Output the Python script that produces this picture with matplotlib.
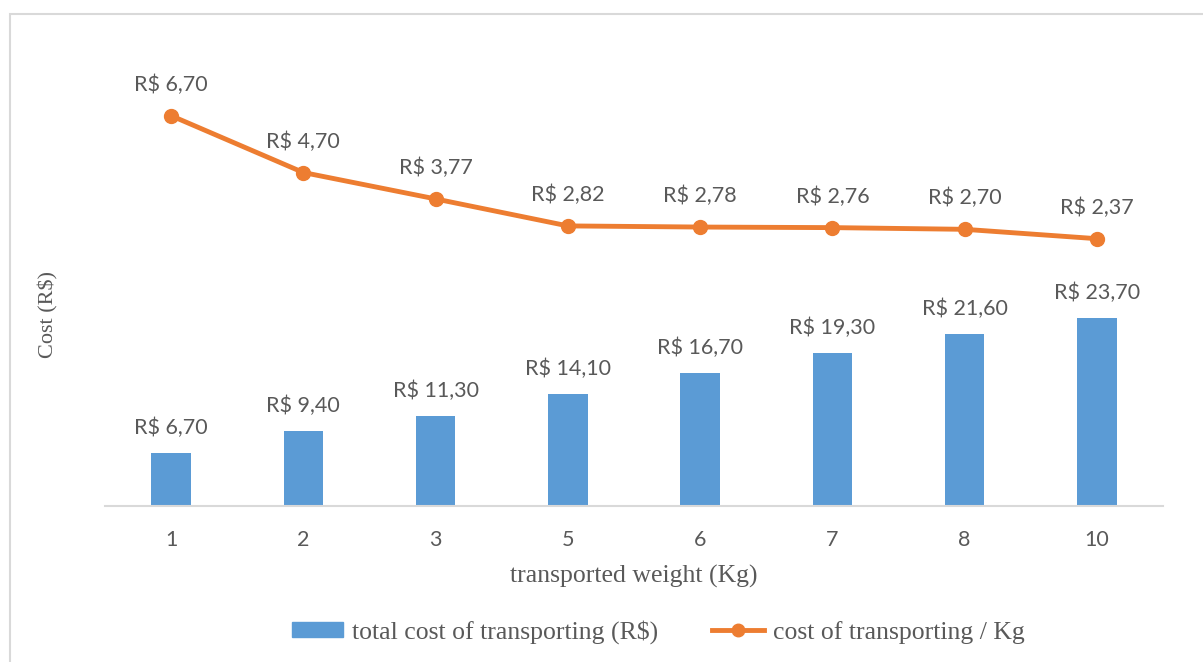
import matplotlib
matplotlib.use("Agg")
import matplotlib.pyplot as plt
from matplotlib.patches import Rectangle
from matplotlib.lines import Line2D
import numpy as np

weights = ["1", "2", "3", "5", "6", "7", "8", "10"]
total_cost = [6.70, 9.40, 11.30, 14.10, 16.70, 19.30, 21.60, 23.70]
cost_per_kg = [6.70, 4.70, 3.77, 2.82, 2.78, 2.76, 2.70, 2.37]

bar_color = "#5B9BD5"
line_color = "#ED7D31"
text_gray = "#595959"

W, H = 1203, 662
fig = plt.figure(figsize=(W / 100, H / 100), dpi=100)
fig.patch.set_facecolor("white")

# outer frame (open on the right and bottom edges)
fig.patches.append(Rectangle((10 / W, -0.05), 1.1, (H - 14) / H + 0.05,
                             transform=fig.transFigure, fill=False,
                             edgecolor="#d9d9d9", lw=1.5))

left, right, bottom, top = 105, 1163, 506, 29
ax = fig.add_axes([left / W, (H - bottom) / H, (right - left) / W, (bottom - top) / H])
x = np.arange(len(weights))

px_per_unit = 7.95
ax.set_ylim(0, (bottom - top) / px_per_unit)
ax.set_xlim(-0.5, len(weights) - 0.5)
ax.bar(x, total_cost, width=0.30, color=bar_color, zorder=2)

label_font = dict(family=["Lato", "DejaVu Sans"], color=text_gray, fontsize=15.5)


def money(v):
    return f"R$ {v:.2f}".replace(".", ",")


for xi, v in zip(x, total_cost):
    ax.annotate(money(v), (xi, v), xytext=(0, 25), textcoords="offset pixels",
                ha="center", va="center", **label_font)

for s in ["top", "right", "left"]:
    ax.spines[s].set_visible(False)
ax.spines["bottom"].set_color("#d9d9d9")
ax.spines["bottom"].set_linewidth(1.5)
ax.set_yticks([])
ax.set_xticks(x)
ax.set_xticklabels(weights, **label_font)
ax.tick_params(axis="x", length=0, pad=17)

serif = dict(family=["Liberation Serif", "DejaVu Serif"], color=text_gray)
ax.set_xlabel("transported weight (Kg)", fontsize=18.5, labelpad=11, **serif)
fig.text(48 / W, 1 - 315 / H, "Cost (R$)", rotation=90, ha="center", va="center",
         fontsize=16, **serif)

# secondary scale for the per-kg line
ax2 = ax.twinx()
zero_y, px2 = 306, 28.4
ax2.set_ylim(-(bottom - zero_y) / px2, (zero_y - top) / px2)
ax2.plot(x, cost_per_kg, color=line_color, lw=3.5, marker="o", markersize=10,
         zorder=3, solid_capstyle="round")
for xi, v in zip(x, cost_per_kg):
    ax2.annotate(money(v), (xi, v), xytext=(0, 31), textcoords="offset pixels",
                 ha="center", va="center", **label_font)
ax2.set_yticks([])
for s in ax2.spines.values():
    s.set_visible(False)

handles = [Rectangle((0, 0), 1, 1, color=bar_color),
           Line2D([], [], color=line_color, lw=3.5, marker="o", markersize=9)]
leg = fig.legend(handles, ["total cost of transporting (R$)", "cost of transporting / Kg"],
                 loc="center", bbox_to_anchor=(658 / W, 1 - 632 / H), ncol=2,
                 frameon=False, prop=dict(family=["Liberation Serif", "DejaVu Serif"], size=18.5),
                 handlelength=2.0, handleheight=0.5, columnspacing=2.1, handletextpad=0.35)
for t in leg.get_texts():
    t.set_color(text_gray)

fig.savefig("out.png", dpi=100)
